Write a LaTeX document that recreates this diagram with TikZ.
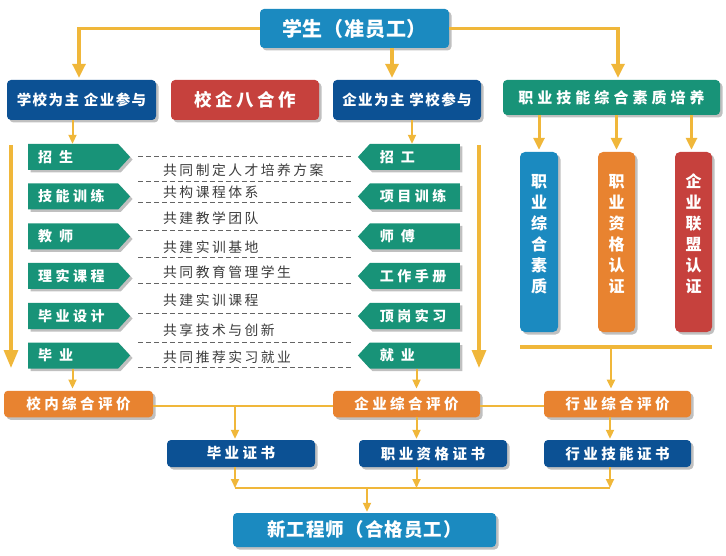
\documentclass[tikz,border=0pt]{standalone}
\usepackage{fontspec}
\setmainfont{Noto Sans CJK SC}
\usetikzlibrary{arrows.meta,shadows,shapes.symbols}
\definecolor{lblue}{RGB}{27,138,192}
\definecolor{dblue}{RGB}{12,81,148}
\definecolor{cred}{RGB}{198,65,61}
\definecolor{cgreen}{RGB}{24,147,120}
\definecolor{corange}{RGB}{232,131,48}
\definecolor{cyellow}{RGB}{240,183,58}
\definecolor{cgray}{RGB}{60,60,60}
\definecolor{cdash}{RGB}{100,100,100}
\newcommand\txtfont[3]{\fontsize{#1}{#2}\selectfont\bfseries\addfontfeature{LetterSpace=#3}}
\newcommand\grfont{\fontsize{13.8}{14}\selectfont\addfontfeature{LetterSpace=18}}
\tikzset{
  shad/.style={drop shadow={shadow xshift=2.5pt,shadow yshift=-2.5pt,fill=black!45,opacity=.55}},
  box/.style={shad,rounded corners=4pt,text=white,inner sep=0pt,align=center},
  vbox/.style={box,minimum width=37pt,minimum height=180pt,rounded corners=5pt,text depth=17pt,font=\txtfont{16}{21}{0}},
  pent/.style={shad,signal,fill=cgreen,text=white,minimum height=26pt,inner xsep=10pt,inner ysep=0pt,
    text width=70pt,align=left,signal pointer angle=95,font=\txtfont{14}{14}{25}},
  gtext/.style={anchor=west,inner sep=0pt,text=cgray,font=\grfont},
  dashline/.style={draw=cdash,line width=0.9pt,dash pattern=on 5pt off 3pt},
  lkA/.style={draw=cyellow,line width=3.2pt},
  lkB/.style={draw=cyellow,line width=2pt},
  lkC/.style={draw=cyellow,line width=3pt},
  lkD/.style={draw=cyellow,line width=2.6pt},
  tipA/.style={-{Triangle[width=13pt,length=14pt]}},
  tipB/.style={-{Triangle[width=8pt,length=9pt]}},
  tipC/.style={-{Triangle[width=11pt,length=12pt]}},
  tipD/.style={-{Triangle[width=14pt,length=18pt]}},
}
\begin{document}
\begin{tikzpicture}[x=1pt,y=-1pt]
\useasboundingbox (0,0) rectangle (726,556);

% top
\node[box,fill=lblue,minimum width=189pt,minimum height=39pt,font=\txtfont{20}{20}{4}] (top) at (354.5,28.5) {学生（准员工）};

% row 2
\node[box,fill=dblue,minimum width=149pt,minimum height=40pt,font=\txtfont{14.5}{15}{10}] (l1) at (81.5,100) {学校为主 企业参与};
\node[box,fill=cred,minimum width=148pt,minimum height=40pt,font=\txtfont{17.5}{17}{20}] (mid) at (245,100) {校企八合作};
\node[box,fill=dblue,minimum width=148pt,minimum height=40pt,font=\txtfont{14.5}{15}{10}] (m2) at (407,100) {企业为主 学校参与};
\node[box,fill=cgreen,minimum width=217pt,minimum height=35pt,font=\txtfont{15}{15}{27}] (g) at (611.5,97.5) {职业技能综合素质培养};

% vertical boxes
\node[vbox,fill=lblue,minimum width=38pt] (v1) at (539,242) {职\\业\\综\\合\\素\\质};
\node[vbox,fill=corange] (v2) at (616.5,242) {职\\业\\资\\格\\认\\证};
\node[vbox,fill=cred] (v3) at (693.5,242) {企\\业\\联\\盟\\认\\证};

% left pentagons
\node[pent,signal to=east,anchor=west] (p1) at (28,157) {招\hspace{7pt}生};
\node[pent,signal to=east,anchor=west] (p2) at (28,196.5) {技能训练};
\node[pent,signal to=east,anchor=west] (p3) at (28,236.5) {教\hspace{7pt}师};
\node[pent,signal to=east,anchor=west] (p4) at (28,276) {理实课程};
\node[pent,signal to=east,anchor=west] (p5) at (28,316) {毕业设计};
\node[pent,signal to=east,anchor=west] (p6) at (28,355.5) {毕\hspace{7pt}业};

% right pentagons
\node[pent,signal to=west,anchor=east] (q1) at (460,157) {招\hspace{7pt}工};
\node[pent,signal to=west,anchor=east] (q2) at (460,196.5) {项目训练};
\node[pent,signal to=west,anchor=east] (q3) at (460,236.5) {师\hspace{7pt}傅};
\node[pent,signal to=west,anchor=east] (q4) at (460,276) {工作手册};
\node[pent,signal to=west,anchor=east] (q5) at (460,316) {顶岗实习};
\node[pent,signal to=west,anchor=east] (q6) at (460,355.5) {就\hspace{7pt}业};

% dashed separators
\foreach \yy in {156,181,202,230,257,283,313,342,367}
  \draw[dashline] (138,\yy) -- (352,\yy);

% middle texts
\node[gtext] (t1) at (163,170) {共同制定人才培养方案};
\node[gtext] (t2) at (163,192) {共构课程体系};
\node[gtext] (t3) at (163,218) {共建教学团队};
\node[gtext] (t4) at (163,247) {共建实训基地};
\node[gtext] (t5) at (163,272.5) {共同教育管理学生};
\node[gtext] (t6) at (163,300) {共建实训课程};
\node[gtext] (t7) at (163,330) {共享技术与创新};
\node[gtext] (t8) at (163,357) {共同推荐实习就业};

% evaluation row
\node[box,fill=corange,minimum width=149pt,minimum height=26.5pt,font=\txtfont{14.5}{15}{24}] (i1) at (78.5,404) {校内综合评价};
\node[box,fill=corange,minimum width=147pt,minimum height=26.5pt,font=\txtfont{14.5}{15}{24}] (i2) at (406.5,404) {企业综合评价};
\node[box,fill=corange,minimum width=147pt,minimum height=26.5pt,font=\txtfont{14.5}{15}{24}] (i3) at (617.5,404) {行业综合评价};

% certificates
\node[box,fill=dblue,minimum width=148pt,minimum height=27pt,font=\txtfont{14.5}{15}{24}] (c1) at (241,453.5) {毕业证书};
\node[box,fill=dblue,minimum width=148pt,minimum height=27pt,font=\txtfont{14.5}{15}{24}] (c2) at (433,453.5) {职业资格证书};
\node[box,fill=dblue,minimum width=147pt,minimum height=27pt,font=\txtfont{14.5}{15}{24}] (c3) at (617.5,453.5) {行业技能证书};

% final
\node[box,fill=lblue,minimum width=263pt,minimum height=34pt,font=\txtfont{18.5}{18}{6}] (nb) at (364.5,530) {新工程师（合格员工）};

% coordinates
\coordinate (LA1) at (11,145); \coordinate (LA2) at (11,368);
\coordinate (RA1) at (479,145); \coordinate (RA2) at (479,368);
\coordinate (hl) at (520,347); \coordinate (hr) at (712,347); \coordinate (hm) at (611,347);
\coordinate (t2c) at ([xshift=37.5pt]top.south);
\coordinate (a1) at (72.5,0); \coordinate (a2) at (412,0); \coordinate (a4) at (416.5,0);
\coordinate (a5) at (610,0); \coordinate (e1) at (235,406);
\coordinate (b1) at (235,488); \coordinate (bm) at (367,488);

% top connectors
\draw[lkA,tipA,shorten >=2pt] (top.west) -| ([xshift=-2.5pt]l1.north);
\draw[lkA,tipA,shorten >=2pt] (t2c) -- (t2c |- m2.north);
\draw[lkA,tipA,shorten >=2pt] (top.east) -| ([xshift=6.5pt]g.north);

% row 2 to pentagons
\draw[lkB,tipB] (a1 |- l1.south) -- (a1 |- p1.north);
\draw[lkB,tipB] (a2 |- m2.south) -- (a2 |- q1.north);

% green to verticals
\draw[lkC,tipC,shorten >=2pt] (v1.north |- g.south) -- (v1.north);
\draw[lkC,tipC,shorten >=2pt] (v2.north |- g.south) -- (v2.north);
\draw[lkC,tipC,shorten >=2pt] ([xshift=-2pt]v3.north |- g.south) -- ([xshift=-2pt]v3.north);

% big side arrows
\draw[lkA,tipD] (LA1) -- (LA2);
\draw[lkA,tipD] (RA1) -- (RA2);

% verticals to evaluation
\draw[lkA] (hl) -- (hr);
\draw[lkD,tipB,shorten >=2pt] (hm) -- (hm |- i3.north);

% pentagons to evaluation
\draw[lkB,tipB,shorten >=2pt] (a1 |- p6.south) -- (a1 |- i1.north);
\draw[lkB,tipB,shorten >=2pt] (a4 |- q6.south) -- (a4 |- i2.north);

% evaluation line
\draw[lkB] ([yshift=-2pt]i1.east) -- ([yshift=-2pt]i2.west);
\draw[lkB] ([yshift=-2pt]i2.east) -- ([yshift=-2pt]i3.west);

% evaluation to certificates
\draw[lkB,tipB,shorten >=1pt] (e1) -- (e1 |- c1.north);
\draw[lkB,tipB,shorten >=1pt] (a4 |- i2.south) -- (a4 |- c2.north);
\draw[lkB,tipB,shorten >=1pt] (a5 |- i3.south) -- (a5 |- c3.north);

% certificates to bottom line
\draw[lkB,tipB] (e1 |- c1.south) -- (b1);
\draw[lkB,tipB] (a4 |- c2.south) -- (a4 |- b1);
\draw[lkB,tipB] (a5 |- c3.south) -- (a5 |- b1);
\draw[lkB] (b1) -- (a5 |- b1);
\draw[lkB,tipB,shorten >=1pt] (bm) -- (bm |- nb.north);
\end{tikzpicture}
\end{document}
